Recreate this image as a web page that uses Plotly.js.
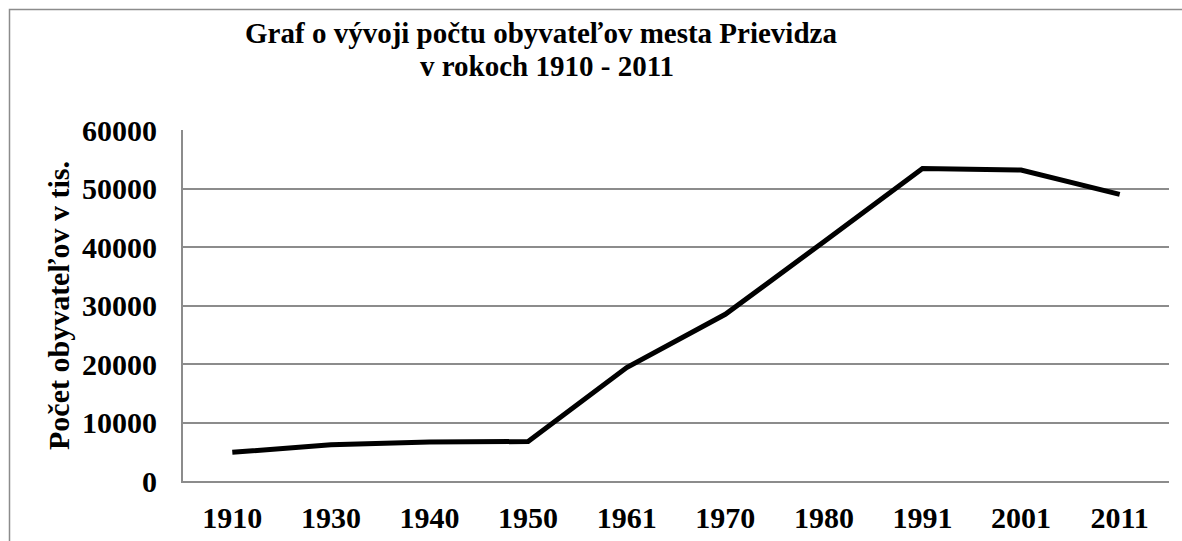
<!DOCTYPE html>
<html>
<head>
<meta charset="utf-8">
<script src="https://cdn.plot.ly/plotly-3.0.1.min.js"></script>
<style>html,body{margin:0;padding:0;background:#fff;}#chart{width:1182px;height:541px;}</style>
</head>
<body>
<div id="chart"></div>
<script>
const years = ['1910','1930','1940','1950','1961','1970','1980','1991','2001','2011'];
const population = [4900, 6200, 6650, 6750, 19400, 28500, 40900, 53400, 53150, 49000];
const yTicks = [0, 10000, 20000, 30000, 40000, 50000, 60000];

const titleLine1 = '<b>Graf o vývoji počtu obyvateľov mesta Prievidza</b>';
const titleLine2 = '<b>v rokoch 1910 - 2011</b>';
const yTitle = '<b>Počet obyvateľov v tis.</b>';

const serif = 'Liberation Serif, Times New Roman, serif';
const grid = '#8c8c8c';

const trace = {
  x: years,
  y: population,
  type: 'scatter',
  mode: 'lines',
  line: {color: '#000000', width: 5},
  hoverinfo: 'x+y'
};

const layout = {
  width: 1182,
  height: 541,
  margin: {l: 183, r: 13, t: 130, b: 60},
  paper_bgcolor: '#ffffff',
  plot_bgcolor: '#ffffff',
  showlegend: false,
  title: {
    text: titleLine1,
    xref: 'container', x: 541/1182, xanchor: 'center',
    yref: 'container', y: 1 - 33/541, yanchor: 'middle',
    font: {family: serif, size: 29, color: '#000000'}
  },
  annotations: [{
    text: titleLine2,
    xref: 'paper', yref: 'paper',
    x: (547 - 183) / 986, xanchor: 'center',
    y: (481 - 66) / 351, yanchor: 'middle',
    showarrow: false,
    font: {family: serif, size: 29, color: '#000000'}
  }],
  xaxis: {
    type: 'category',
    range: [-0.5, years.length - 0.5],
    showgrid: false,
    showline: true, linecolor: grid, linewidth: 2,
    ticks: 'outside', ticklen: 9, tickcolor: 'rgba(0,0,0,0)',
    tickfont: {family: serif, size: 30, color: '#000000', weight: 'bold'},
    zeroline: false,
    fixedrange: true
  },
  yaxis: {
    range: [0, 60000],
    tickvals: yTicks,
    tickformat: 'd',
    showgrid: true, gridcolor: grid, gridwidth: 2,
    showline: true, linecolor: grid, linewidth: 2,
    zeroline: false,
    ticks: 'outside', ticklen: 18, tickcolor: 'rgba(0,0,0,0)',
    tickfont: {family: serif, size: 30, color: '#000000', weight: 'bold'},
    title: {text: yTitle, font: {family: serif, size: 30, color: '#000000'}, standoff: 4},
    fixedrange: true
  },
  shapes: [{
    type: 'rect', xref: 'paper', yref: 'paper',
    x0: (9.5 - 183) / 986, x1: 1.2,
    y0: -0.5, y1: (481 - 9.5) / 351,
    line: {color: '#8c8c8c', width: 1.5},
    fillcolor: 'rgba(0,0,0,0)',
    layer: 'below'
  }]
};

Plotly.newPlot('chart', [trace], layout, {displayModeBar: false, staticPlot: true});
</script>
</body>
</html>
